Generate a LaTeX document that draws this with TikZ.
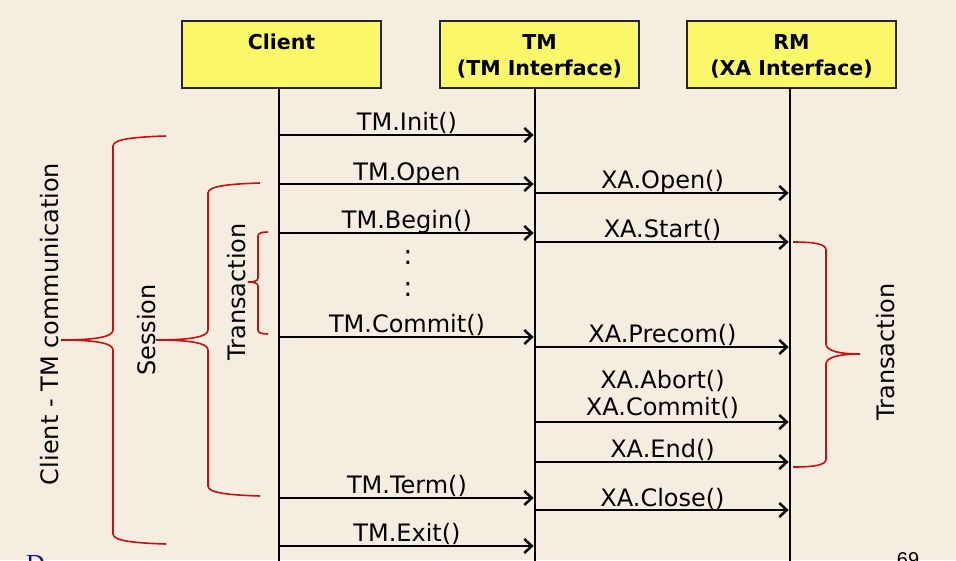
\documentclass[tikz,border=0pt]{standalone}
\usepackage{fontspec}
\setmainfont{DejaVu Sans}
\newfontfamily\footserif{Liberation Serif}
\newfontfamily\pagenumfont{Liberation Sans}
\usetikzlibrary{arrows.meta}
\definecolor{bg}{RGB}{245,237,224}
\definecolor{boxy}{RGB}{250,247,105}
\definecolor{bred}{RGB}{200,16,16}
\definecolor{fblue}{RGB}{20,20,140}
\begin{document}
\begin{tikzpicture}[x=1pt,y=-1pt,
  hdr/.style={draw=black!85, line width=1.4pt, fill=boxy, minimum height=67pt, inner sep=0pt},
  hdrtext/.style={font=\fontsize{20.5}{24}\selectfont\bfseries, inner sep=0pt, anchor=base},
  life/.style={line width=2.8pt, black},
  msg/.style={line width=2.7pt, -{Straight Barb[length=7.5pt,width=14pt,line width=2.5pt]}, shorten >=1.4pt},
  lbl/.style={font=\fontsize{24}{28}\selectfont, inner sep=0pt},
  brace/.style={draw=bred, line width=1.6pt},
  sidelbl/.style={font=\fontsize{24}{28}\selectfont, inner sep=0pt, rotate=90, anchor=base}]
\fill[bg] (0,0) rectangle (956,560);
\useasboundingbox (0,0) rectangle (956,560);

% header boxes
\node[hdr, minimum width=199pt] (client) at (281.5,54.5) {};
\node[hdr, minimum width=199pt] (tm) at (539.5,54.5) {};
\node[hdr, minimum width=209pt] (rm) at (791.5,54.5) {};
\node[hdrtext] (clientT) at (281.5,49) {Client};
\node[hdrtext] (tmT1) at (539.5,49) {TM};
\node[hdrtext] (tmT2) at (539.5,75) {(TM Interface)};
\node[hdrtext] (rmT1) at (791.5,49) {RM};
\node[hdrtext] (rmT2) at (791.5,75) {(XA Interface)};

% lifelines
\coordinate (cTop) at (279,88);  \coordinate (cBot) at (279,562);
\coordinate (tTop) at (535,88);  \coordinate (tBot) at (535,562);
\coordinate (rTop) at (790,88);  \coordinate (rBot) at (790,562);
\draw[life] (cTop) -- (cBot);
\draw[life] (tTop) -- (tBot);
\draw[life] (rTop) -- (rBot);

% message end points
\foreach \n/\y in {init/135, open/184, begin/233, commit/337, term/498, exit/546}{
  \coordinate (c-\n) at (279,\y); \coordinate (t-\n) at (535,\y);}
\foreach \n/\y in {xopen/193, xstart/242, precom/347, xcommit/422, xend/462, xclose/510}{
  \coordinate (s-\n) at (535,\y); \coordinate (r-\n) at (790,\y);}

% client -> TM
\draw[msg] (c-init) -- node[lbl, anchor=base, yshift=4.5pt] (l1) {TM.Init()} (t-init);
\draw[msg] (c-open) -- node[lbl, anchor=base, yshift=4pt] (l2) {TM.Open} (t-open);
\draw[msg] (c-begin) -- node[lbl, anchor=base, yshift=4.5pt] (l3) {TM.Begin()} (t-begin);
\draw[msg] (c-commit) -- node[lbl, anchor=base, yshift=5pt] (l4) {TM.Commit()} (t-commit);
\draw[msg] (c-term) -- node[lbl, anchor=base, yshift=4.5pt] (l5) {TM.Term()} (t-term);
\draw[msg] (c-exit) -- node[lbl, anchor=base, yshift=4.5pt] (l6) {TM.Exit()} (t-exit);

% TM -> RM
\draw[msg] (s-xopen) -- node[lbl, anchor=base, yshift=5pt] (m1) {XA.Open()} (r-xopen);
\draw[msg] (s-xstart) -- node[lbl, anchor=base, yshift=5pt] (m2) {XA.Start()} (r-xstart);
\draw[msg] (s-precom) -- node[lbl, anchor=base, yshift=5pt] (m3) {XA.Precom()} (r-precom);
\draw[msg] (s-xcommit) -- node[lbl, anchor=base, yshift=7pt] (m4) {XA.Commit()} (r-xcommit);
\node[lbl, anchor=base] (m4b) at (662.5,388) {XA.Abort()};
\draw[msg] (s-xend) -- node[lbl, anchor=base, yshift=5pt] (m5) {XA.End()} (r-xend);
\draw[msg] (s-xclose) -- node[lbl, anchor=base, yshift=4pt] (m6) {XA.Close()} (r-xclose);

% vertical ellipsis
\node[font=\fontsize{27}{30}\selectfont, inner sep=0pt, anchor=base] (dots1) at (408,264) {:};
\node[font=\fontsize{27}{30}\selectfont, inner sep=0pt, anchor=base] (dots2) at (408,296) {:};

% braces
\draw[brace] (166,136) .. controls (135,137) and (113,139) .. (113,146) -- (113,330)
  .. controls (113,337) and (95,340) .. (61,340) .. controls (95,340) and (113,343) .. (113,350)
  -- (113,534) .. controls (113,541) and (135,543) .. (166,544);
\draw[brace] (260,183) .. controls (229,184) and (208,186) .. (208,193) -- (208,330)
  .. controls (208,337) and (190,340) .. (156,340) .. controls (190,340) and (208,343) .. (208,350)
  -- (208,486) .. controls (208,493) and (229,495) .. (260,496);
\draw[brace] (268,232) .. controls (262,232) and (258,233) .. (258,236) -- (258,278)
  .. controls (258,281) and (254,282) .. (248,282) .. controls (254,282) and (258,283) .. (258,286)
  -- (258,330) .. controls (258,333) and (262,334) .. (268,334);
\draw[brace] (793,242) .. controls (815,242) and (826,244) .. (826,250) -- (826,344)
  .. controls (826,351) and (840,354) .. (860,354) .. controls (840,354) and (826,357) .. (826,364)
  -- (826,459) .. controls (826,465) and (815,467) .. (793,467);

% brace labels
\node[sidelbl] (ctm) at (58,324) {Client - TM communication};
\node[sidelbl] (sess) at (155,330) {Session};
\node[sidelbl] (trL) at (245,292) {Transaction};
\node[sidelbl] (trR) at (894,352) {Transaction};

% footer fragments (cut off by the page edge, as in the reference)
\node[font=\pagenumfont\fontsize{20}{24}\selectfont, inner sep=0pt, anchor=north] (pnum) at (908,552) {69};
\node[font=\footserif\fontsize{26}{30}\selectfont, text=fblue, inner sep=0pt, anchor=north west] (foot) at (26,555) {D};
\end{tikzpicture}
\end{document}
